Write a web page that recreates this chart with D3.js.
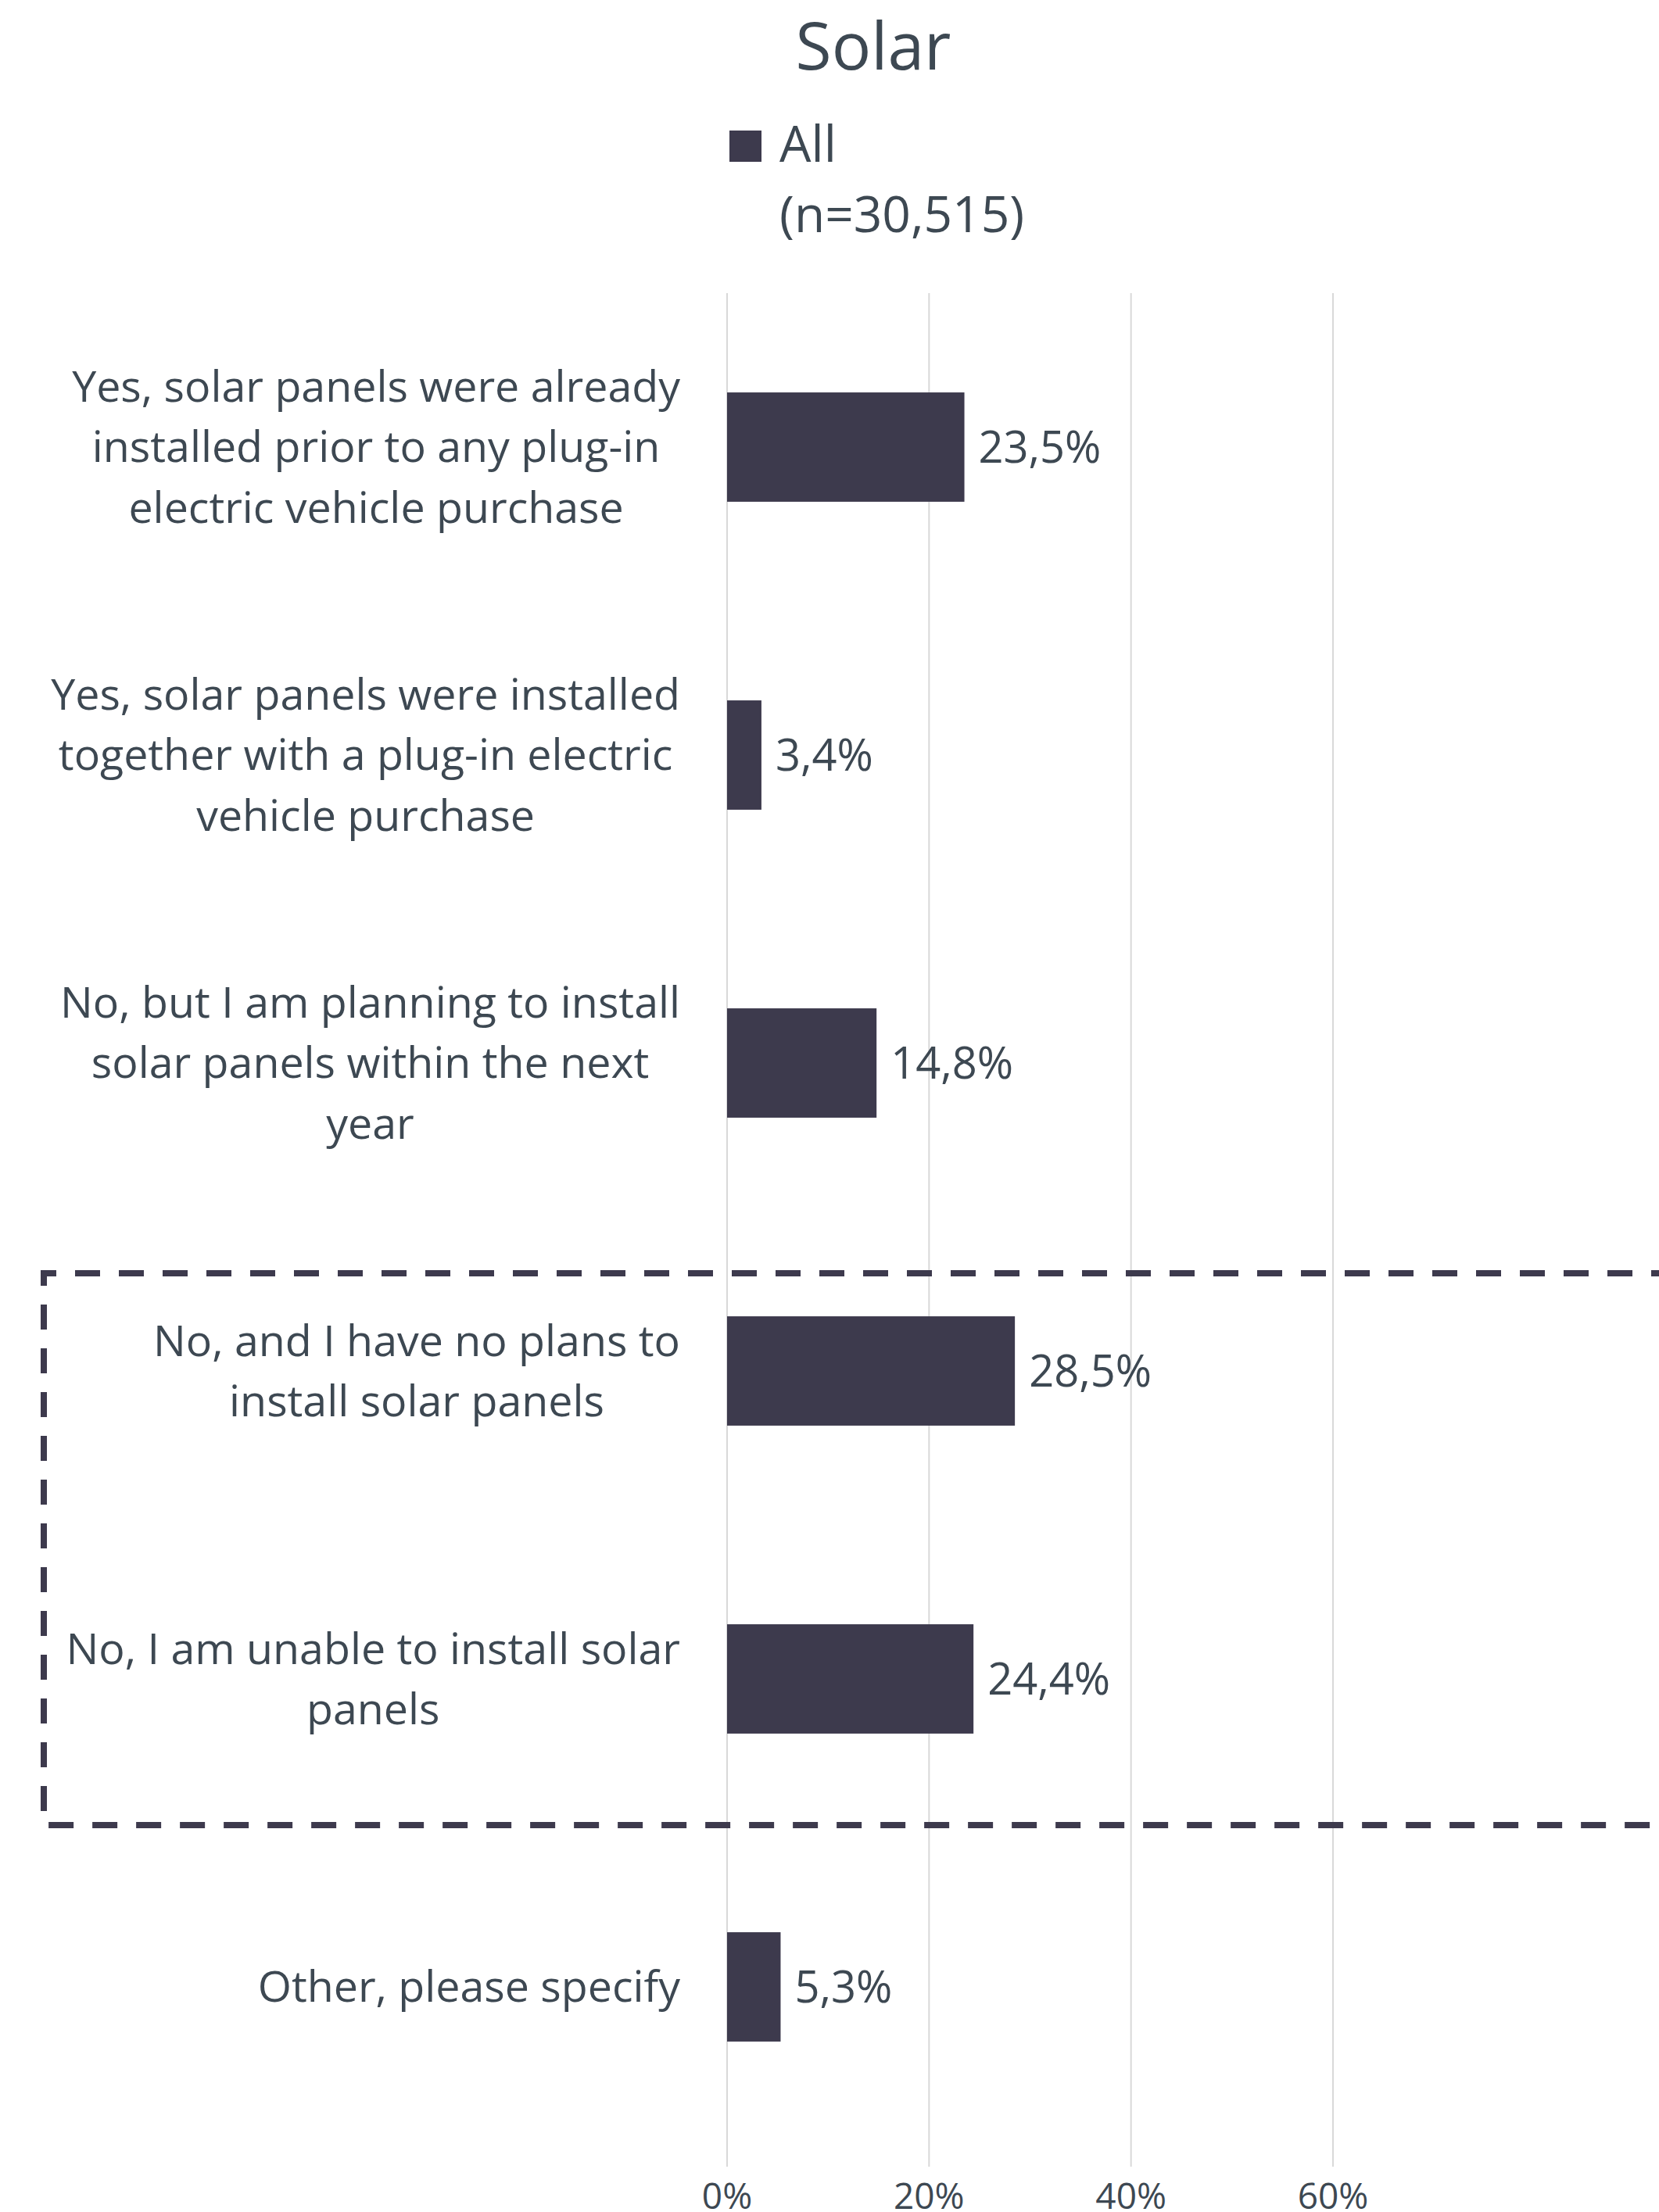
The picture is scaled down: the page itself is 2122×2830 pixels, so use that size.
<!DOCTYPE html>
<html>
<head>
<meta charset="utf-8">
<script src="https://cdn.jsdelivr.net/npm/d3@7"></script>
<style>
  html, body { margin: 0; padding: 0; background: #fff; }
  svg { display: block; }
</style>
</head>
<body>
<svg id="chart" width="2122" height="2830"></svg>
<script>
const categories = [
  ["Yes, solar panels were already", "installed prior to any plug-in", "electric vehicle purchase"],
  ["Yes, solar panels were installed", "together with a plug-in electric", "vehicle purchase"],
  ["No, but I am planning to install", "solar panels within the next", "year"],
  ["No, and I have no plans to", "install solar panels"],
  ["No, I am unable to install solar", "panels"],
  ["Other, please specify"]
];
const values = [23.5, 3.4, 14.8, 28.5, 24.4, 5.3];
const valueLabels = ["23,5%", "3,4%", "14,8%", "28,5%", "24,4%", "5,3%"];
const tickValues = [0, 20, 40, 60];
const tickLabels = ["0%", "20%", "40%", "60%"];
const seriesName = ["All", "(n=30,515)"];
const titleText = "Solar";
const highlighted = [3, 4];

const FONT = "'Open Sans', 'Noto Sans', sans-serif";
const TEXT = "#3D4852";
const BAR = "#3D3A4D";
const svg = d3.select("#chart");

const x = d3.scaleLinear().domain([0, 60]).range([930, 1705]);
const y = d3.scaleBand().domain(d3.range(categories.length))
  .range([375, 2739]).paddingInner(0.645).paddingOuter(0.3225);

// gridlines
svg.append("g").selectAll("line").data(tickValues).join("line")
  .attr("x1", d => x(d)).attr("x2", d => x(d))
  .attr("y1", 375).attr("y2", 2772)
  .attr("stroke", "#D9D9D9").attr("stroke-width", 2);

// tick labels
svg.append("g").selectAll("text").data(tickValues).join("text")
  .attr("x", d => x(d)).attr("y", 2826)
  .attr("text-anchor", "middle")
  .attr("font-family", FONT).attr("font-size", 46).attr("fill", TEXT)
  .text((d, i) => tickLabels[i]);

// bars
svg.append("g").selectAll("rect").data(values).join("rect")
  .attr("x", x(0)).attr("y", (d, i) => y(i))
  .attr("width", d => x(d) - x(0)).attr("height", y.bandwidth())
  .attr("fill", BAR);

// value labels
svg.append("g").selectAll("text").data(values).join("text")
  .attr("x", d => x(d) + 18).attr("y", (d, i) => y(i) + y.bandwidth() / 2)
  .attr("dy", "0.35em")
  .attr("font-family", FONT).attr("font-size", 56).attr("fill", TEXT)
  .text((d, i) => valueLabels[i]);

// category labels: block right-aligned, lines centered within block
const lineH = 77.6;
const labelRight = 870;
const lg = svg.append("g");
categories.forEach((lines, i) => {
  const g = lg.append("g");
  const cy = y(i) + y.bandwidth() / 2;
  const texts = lines.map((l, j) => g.append("text")
    .attr("y", cy + (j - (lines.length - 1) / 2) * lineH)
    .attr("dy", "0.35em")
    .attr("text-anchor", "middle")
    .attr("font-family", FONT).attr("font-size", 55.5).attr("fill", TEXT)
    .text(l));
  const w = d3.max(texts, t => t.node().getComputedTextLength());
  texts.forEach(t => t.attr("x", labelRight - w / 2));
});

// dashed highlight box
const boxTop = y(highlighted[0]) - 55;
const boxBottom = y(highlighted[highlighted.length - 1]) + y.bandwidth() + 117;
svg.append("path")
  .attr("d", `M2200,${boxTop} H56 V${boxBottom} H2200`)
  .attr("fill", "none").attr("stroke", BAR).attr("stroke-width", 8)
  .attr("stroke-dasharray", "32,24");

// title
svg.append("text").attr("x", 1117).attr("y", 89)
  .attr("text-anchor", "middle")
  .attr("font-family", FONT).attr("font-size", 84).attr("fill", TEXT)
  .text(titleText);

// legend
svg.append("rect").attr("x", 933).attr("y", 167).attr("width", 41).attr("height", 40).attr("fill", BAR);
svg.append("g").selectAll("text").data(seriesName).join("text")
  .attr("x", 997).attr("y", (d, i) => 207 + i * 90)
  .attr("font-family", FONT).attr("font-size", 64).attr("fill", TEXT)
  .text(d => d);
</script>
</body>
</html>
